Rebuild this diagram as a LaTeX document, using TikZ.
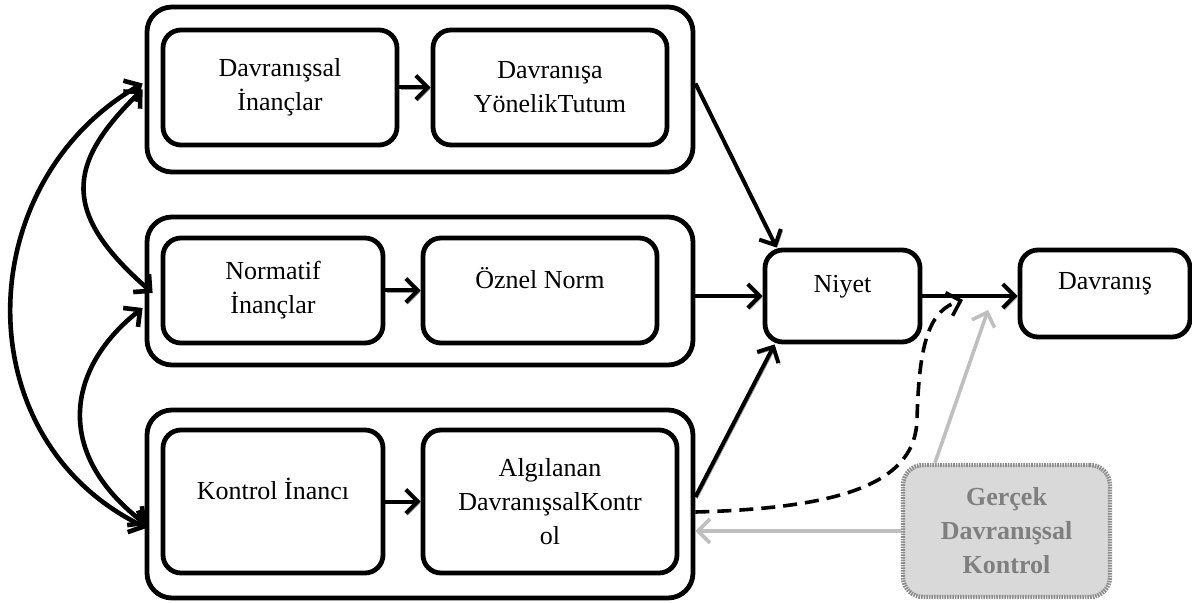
\documentclass[tikz,border=0pt]{standalone}
\usepackage{fontspec}
\setmainfont{Liberation Serif}
\usetikzlibrary{arrows.meta}
\definecolor{lightfill}{HTML}{D9D9D9}
\definecolor{softgray}{HTML}{BFBFBF}
\definecolor{textgray}{HTML}{7F7F7F}
\begin{document}
\begin{tikzpicture}[x=0.5pt,y=-0.5pt,
  every node/.style={font=\fontsize{13}{17}\selectfont, align=center, inner sep=0pt},
  group/.style={draw, line width=2.4pt, rounded corners=12.5pt, minimum width=273pt},
  item/.style={draw, line width=2.4pt, rounded corners=9pt},
  barb/.style={-{Straight Barb[length=6pt,width=12pt]}},
  shade/.style={preaction={draw=black!40, transform canvas={shift={(0.9pt,-0.9pt)}}}},
  flow/.style={barb, line width=2pt, shade},
  link/.style={{Straight Barb[length=6pt,width=12pt]}-{Straight Barb[length=6pt,width=12pt]}, line width=2.3pt},
  actual/.style={draw=softgray, line width=1.8pt, barb}
]
\useasboundingbox (0,0) rectangle (1192,603);

% grouped belief -> evaluation pairs
\node[group, minimum height=82.5pt] (o1) at (420,89.5) {};
\node[group, minimum height=74pt]   (o2) at (420,291) {};
\node[group, minimum height=94pt]   (o3) at (420,504) {};

\node[item, minimum width=117pt, minimum height=57.5pt] (b1) at (280,87.5) {Davranışsal\\İnançlar};
\node[item, minimum width=117pt, minimum height=57.5pt] (b2) at (550,87.5) {Davranışa\\YönelikTutum};
\node[item, minimum width=110pt, minimum height=52.5pt] (b3) at (273,290.5) {Normatif\\İnançlar};
\node[item, minimum width=117pt, minimum height=52.5pt] (b4) at (540,290.5) {Öznel Norm\\[-10pt]\strut};
\node[item, minimum width=110pt, minimum height=71.5pt] (b5) at (273,501.5) {Kontrol İnancı\\[-9pt]\strut};
\node[item, minimum width=127pt, minimum height=71.5pt] (b6) at (550,501.5) {Algılanan\\DavranışsalKontr\\ol};

\node[item, minimum width=77.5pt, minimum height=46pt] (niyet) at (842.5,296) {Niyet\\[-10pt]\strut};
\node[item, minimum width=85pt, minimum height=43.5pt] (davr) at (1105,293.5) {Davranış\\[-10pt]\strut};

\node[draw=black!45, line width=2.2pt, dash pattern=on 0.8pt off 0.5pt, fill=lightfill,
      rounded corners=10pt, minimum width=103.5pt, minimum height=66pt,
      text=textgray, font=\bfseries\fontsize{13}{17}\selectfont] (gercek) at (1006.5,531)
      {Gerçek\\Davranışsal\\Kontrol};

% arrows inside the groups
\draw[flow] (b1.east) -- (b2.west);
\draw[flow] (b3.east) -- (b4.west);
\draw[flow] (b5.east) -- (b6.west |- b5.east);

% groups -> intention -> behaviour
\draw[flow] ([yshift=3pt]o1.east) -- ([xshift=7pt]niyet.north west);
\draw[flow] (o2.east |- niyet.west) -- (niyet.west);
\draw[flow] ([yshift=3.5pt]o3.east) -- ([xshift=6pt]niyet.south west);
\draw[flow] (niyet.east) -- (niyet.east -| davr.west);

% moderating paths
\coordinate (join) at (963,300);
\coordinate (gtip) at (988,310);
\draw[barb, line width=1.8pt, dash pattern=on 7pt off 4pt]
  ([yshift=-4pt]o3.east) .. controls (850,508) and (915,480) .. (917,420)
  .. controls (919,340) and (930,310) .. (join);
\draw[actual] ([xshift=-35.75pt]gercek.north) -- (gtip);
\draw[actual] (gercek.west) -- (gercek.west -| o3.east);

% correlations among the beliefs
\draw[link] ([xshift=-1pt,yshift=3pt]o1.west) .. controls (-30,183) and (-36,439) .. ([xshift=1pt,yshift=-12pt]o3.west);
\draw[link] ([xshift=-1pt]o1.west) .. controls (65,165) and (62,214) .. ([xshift=4pt,yshift=-1pt]o2.west);
\draw[link] ([xshift=-1pt,yshift=-8.5pt]o2.west) .. controls (70,365) and (50,450) .. ([xshift=1pt,yshift=-10.5pt]o3.west);
\end{tikzpicture}
\end{document}
